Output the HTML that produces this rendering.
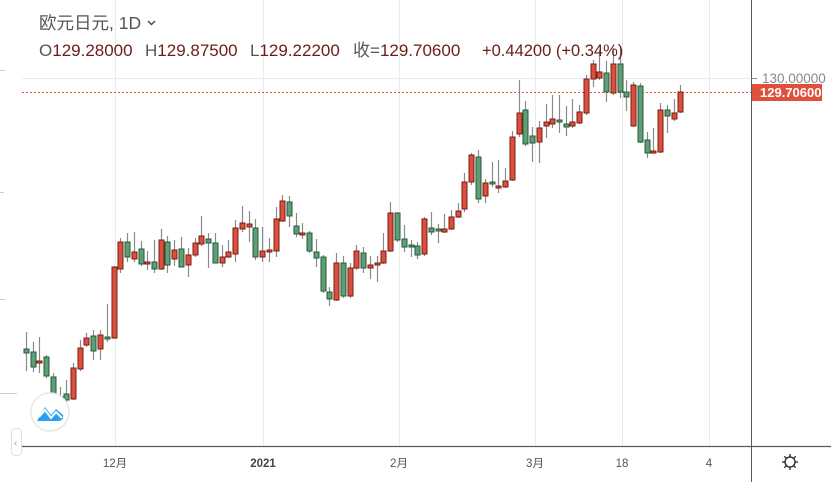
<!DOCTYPE html>
<html><head><meta charset="utf-8"><style>
html,body{margin:0;padding:0;background:#fff;}
body{width:831px;height:482px;overflow:hidden;position:relative;font-family:"Liberation Sans","Noto Sans CJK SC",sans-serif;}
svg{position:absolute;left:0;top:0;}
</style></head><body>
<svg id="s" width="831" height="482" xmlns="http://www.w3.org/2000/svg">
<g stroke="#e6edf2" stroke-width="1">
<line x1="115.5" y1="0" x2="115.5" y2="446"/>
<line x1="263.5" y1="0" x2="263.5" y2="446"/>
<line x1="399.5" y1="0" x2="399.5" y2="446"/>
<line x1="535.5" y1="0" x2="535.5" y2="446"/>
<line x1="622.5" y1="0" x2="622.5" y2="446"/>
<line x1="709.5" y1="0" x2="709.5" y2="446"/>
<line x1="22" y1="78.5" x2="751" y2="78.5"/>
</g>
<g stroke="#c8ccd4" stroke-width="1">
<line x1="0" y1="70.5" x2="5" y2="70.5"/>
<line x1="0" y1="192.5" x2="4" y2="192.5"/>
<line x1="0" y1="299.5" x2="5" y2="299.5"/>
<line x1="0" y1="393.5" x2="17" y2="393.5"/>
</g>
<line x1="22" y1="92.5" x2="751" y2="92.5" stroke="#e0503c" stroke-width="1" stroke-dasharray="2,2"/>
<g id="c"></g>
<line x1="751.5" y1="0" x2="751.5" y2="482" stroke="#555a66" stroke-width="1"/>
<line x1="22" y1="446.5" x2="831" y2="446.5" stroke="#555a66" stroke-width="1.3"/>
<line x1="751" y1="78.5" x2="757" y2="78.5" stroke="#888"/>
<text x="762" y="83" font-size="13.5" fill="#888">130.00000</text>
<rect x="752" y="84" width="70" height="17" fill="#e0503c"/>
<text x="760" y="97" font-size="13" font-weight="bold" fill="#fff">129.70600</text>
<g font-size="11.5" fill="#555" text-anchor="middle">
<text x="115" y="467">12月</text>
<text x="263" y="467" font-weight="bold" fill="#444">2021</text>
<text x="399" y="467">2月</text>
<text x="535" y="467">3月</text>
<text x="622" y="467">18</text>
<text x="709" y="467">4</text>
</g>
<g stroke="#222" stroke-width="1.3" fill="none">
<circle cx="790" cy="462" r="5"/>
<path d="M790 454v3M790 467v3M782 462h3M795 462h3M784.3 456.3l2 2M793.7 465.7l2 2M784.3 467.7l2-2M793.7 458.3l2-2"/>
</g>
<circle cx="50" cy="412" r="19" fill="#fff" stroke="#e8e8e8" stroke-width="1.5"/>
<path d="M37 421 L45 407 L51 415 L56 409 L63 415 Q64 421 58 421 Z" fill="#2a9df4"/>
<path d="M39 417 L45 410 L51 418 L56 412 L62 418" stroke="#fff" stroke-width="2" fill="none"/>
<rect x="11.5" y="428.5" width="10" height="27" rx="4" fill="#fff" stroke="#dde"/>
<text x="14" y="446" font-size="10" fill="#99a">‹</text>
<text x="39" y="29" font-size="17.5" fill="#555">欧元日元, 1D</text>
<path d="M148 21 l3.5 3.5 l3.5 -3.5" stroke="#444" stroke-width="1.4" fill="none"/>
<g font-size="17" fill="#6b1e17">
<text x="39" y="56"><tspan fill="#555">O</tspan>129.28000</text>
<text x="145" y="56"><tspan fill="#555">H</tspan>129.87500</text>
<text x="250" y="56"><tspan fill="#555">L</tspan>129.22200</text>
<text x="353" y="56"><tspan fill="#555">收=</tspan>129.70600</text>
<text x="482" y="56" font-size="16.5">+0.44200 (+0.34%)</text>
</g>
</svg>
<script>
var d=[
[26,'g',332,371,349,353],[33,'g',342,372,352,367],[39,'r',337,373,361,363],[46,'g',355,378,357,376],[53,'g',373,397,377,395],[60,'r',387,400,397,399],[66,'g',380,402,394,400],[73,'r',363,400,368,399],[80,'r',340,371,348,369],[86,'r',333,347,338,345],[93,'g',330,360,336,351],[100,'r',330,360,335,349],[107,'g',304,342,337,339],[114,'r',266,339,267,338],[120,'r',238,273,242,269],[127,'g',233,262,242,257],[134,'r',232,262,252,259],[141,'g',241,266,249,264],[147,'r',251,270,262,264],[154,'g',240,273,262,269],[161,'r',229,270,240,269],[167,'g',236,273,242,265],[174,'r',240,266,250,259],[181,'g',237,267,249,267],[188,'r',248,277,255,265],[195,'r',238,257,243,255],[201,'r',216,246,236,244],[208,'g',233,268,239,243],[215,'g',233,263,243,263],[222,'r',245,267,257,263],[228,'r',240,258,252,257],[235,'r',220,262,228,254],[242,'r',206,232,223,229],
[249,'r',211,242,224,227],[255,'g',219,260,228,257],[262,'r',227,262,251,257],[269,'r',238,262,250,252],[276,'r',207,257,219,251],[282,'r',195,222,201,221],[289,'g',196,227,202,216],[296,'g',213,237,226,234],[302,'r',223,239,233,234],[309,'g',231,253,233,251],[316,'g',239,267,252,258],[323,'g',255,293,257,291],[329,'g',287,306,292,299],[336,'r',253,301,263,300],[343,'g',256,298,263,296],[350,'r',263,298,268,296],[356,'r',245,270,251,268],[363,'g',247,273,253,268],[370,'r',256,279,265,268],[377,'r',256,282,263,265],[383,'r',233,264,251,263],[390,'r',202,252,213,251],[397,'g',212,242,213,240],[404,'g',225,252,239,247],[411,'g',240,257,245,246],[417,'g',242,259,246,255],[424,'r',217,256,219,254],[431,'g',212,235,228,232],[438,'g',224,243,229,231],[444,'r',214,233,229,232],[451,'r',210,230,217,229],[458,'r',203,218,211,217],[464,'r',173,212,182,209],
[471,'r',153,185,155,182],[478,'g',150,203,157,199],[485,'r',179,203,183,196],[492,'g',162,187,182,184],[498,'r',160,193,186,188],[505,'r',168,188,181,187],[512,'r',131,181,137,180],[519,'r',80,137,113,134],[525,'g',101,146,110,144],[532,'g',127,162,136,143],[539,'r',121,163,128,142],[546,'r',104,138,122,126],[552,'r',95,128,119,124],[559,'g',95,133,120,122],[566,'g',106,136,124,127],[572,'r',99,128,122,126],[579,'r',105,124,112,123],[586,'r',75,115,79,113],[593,'r',60,87,64,79],[599,'r',50,80,72,78],[606,'g',61,102,73,92],[613,'r',48,95,64,93],[620,'g',46,98,64,92],[626,'g',80,111,92,97],[633,'r',82,127,85,126],[640,'g',83,143,86,142],[647,'g',132,158,140,153],[653,'r',128,154,151,153],[660,'r',103,153,110,152],[667,'g',105,133,110,116],[674,'r',99,121,113,119],[680,'r',85,113,92,112]];
var h='';
d.forEach(function(c){var x=c[0],fill=c[1]=='r'?'#d9503f':'#5f9e76',st=c[1]=='r'?'#7a1c12':'#24583a';
h+='<line x1="'+(x+0.5)+'" y1="'+c[2]+'" x2="'+(x+0.5)+'" y2="'+c[3]+'" stroke="#8a8a8a" stroke-width="1.2"/>';
var hh=Math.max(c[5]-c[4],2);
h+='<rect x="'+(x-2)+'" y="'+c[4]+'" width="5" height="'+hh+'" fill="'+fill+'" stroke="'+st+'" stroke-width="1"/>';});
document.getElementById('c').innerHTML=h;
</script>
</body></html>
